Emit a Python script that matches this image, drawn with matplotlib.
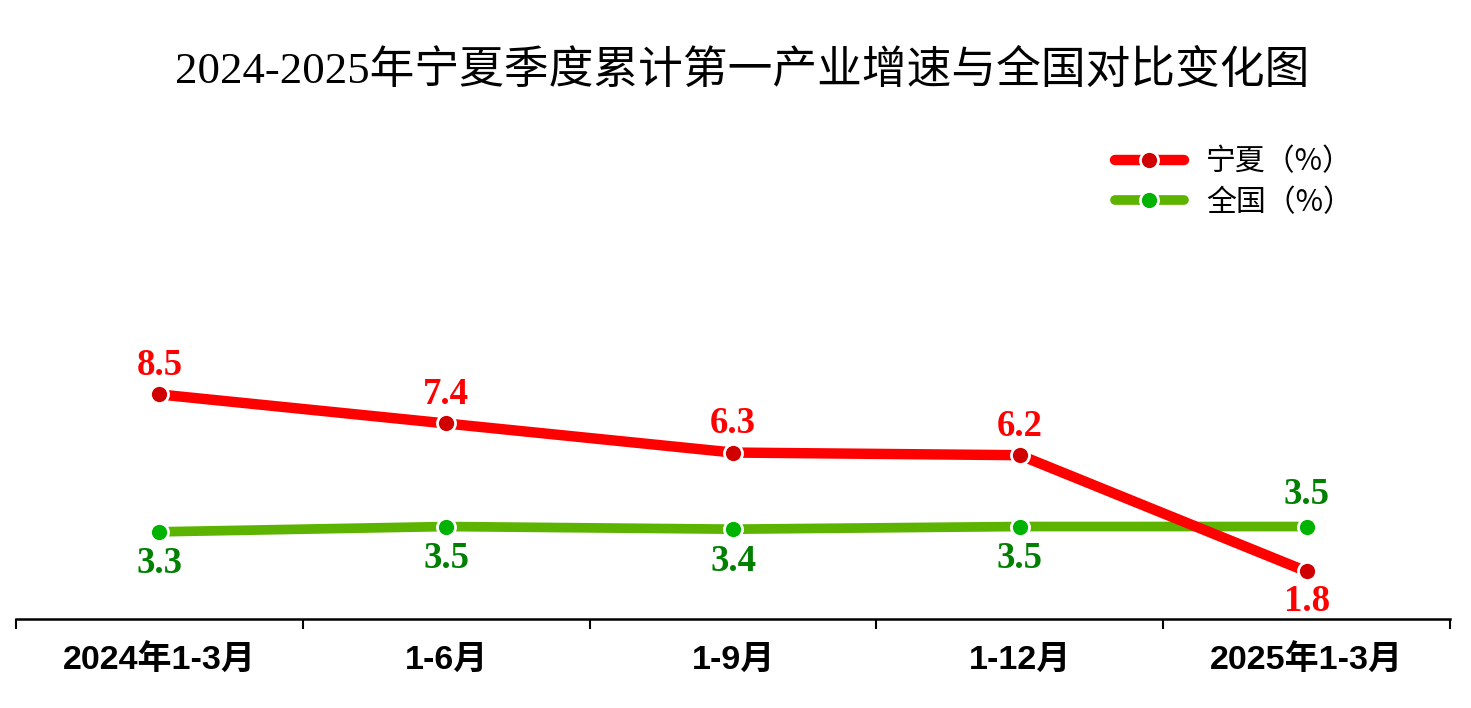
import matplotlib
matplotlib.use("Agg")
import matplotlib.pyplot as plt
import numpy as np

categories = ["2024年1-3月", "1-6月", "1-9月", "1-12月", "2025年1-3月"]
ningxia = [8.5, 7.4, 6.3, 6.2, 1.8]
national = [3.3, 3.5, 3.4, 3.5, 3.5]
series_names = ["宁夏（%）", "全国（%）"]
title = "2024-2025年宁夏季度累计第一产业增速与全国对比变化图"

W, H = 1471, 708
fig = plt.figure(figsize=(W / 100, H / 100), dpi=100)
ax = fig.add_axes([16 / W, (H - 619) / H, 1434 / W, (619 - 90.6) / H])

x = np.arange(len(categories)) + 0.5

red_line, green_line = "#ff0000", "#5cb400"
red_mk, green_mk = "#d10000", "#00b300"

ax.plot(x, ningxia, color=red_line, lw=7.5, marker="o", ms=13,
        mfc=red_mk, mec="white", mew=2, solid_capstyle="round",
        label=series_names[0], zorder=3)
ax.plot(x, national, color=green_line, lw=7, marker="o", ms=13,
        mfc=green_mk, mec="white", mew=2, solid_capstyle="round",
        label=series_names[1], zorder=2)

lab_font = dict(family=["Liberation Serif", "DejaVu Serif"], weight="bold", size=26.5)
# Ningxia labels: above, except last below
for i, (xi, v) in enumerate(zip(x, ningxia)):
    off = 21 if i < len(x) - 1 else -22
    ax.annotate(f"{v:.1f}", (xi, v), xytext=(0, off), textcoords="offset points",
                ha="center", va="center", color="#ff0000", **lab_font)
# National labels: below, except last above
for i, (xi, v) in enumerate(zip(x, national)):
    off = -23 if i < len(x) - 1 else 23
    ax.annotate(f"{v:.1f}", (xi, v), xytext=(0, off), textcoords="offset points",
                ha="center", va="center", color="#008000", **lab_font)

ax.set_xlim(0, len(categories))
ax.set_ylim(0, 20)
for s in ["top", "left", "right"]:
    ax.spines[s].set_visible(False)
ax.spines["bottom"].set_linewidth(1.8)
ax.spines["bottom"].set_color("black")
ax.set_yticks([])

ax.set_xticks(x)
ax.set_xticklabels(categories, fontfamily=["Liberation Sans", "Noto Sans CJK SC"],
                   fontweight="bold", fontsize=24.5)
ax.tick_params(axis="x", which="major", length=0, pad=18.5)
ax.set_xticks(np.arange(len(categories) + 1), minor=True)
ax.tick_params(axis="x", which="minor", direction="out", length=7, width=1.5, color="black")

fig.text(742 / W, 1 - 72 / H, title, ha="center", va="center",
         fontsize=32.2, family=["Liberation Serif", "Noto Sans CJK SC"])

leg = fig.legend(loc="upper left", bbox_to_anchor=(1115 / W, 1 - 146 / H),
                 frameon=False, borderpad=0, borderaxespad=0,
                 handlelength=2.3, handletextpad=0.75, labelspacing=0.33,
                 prop=dict(family=["Noto Sans CJK SC", "DejaVu Sans"], size=21.5))

fig.savefig("out.png", dpi=100, facecolor="white")
